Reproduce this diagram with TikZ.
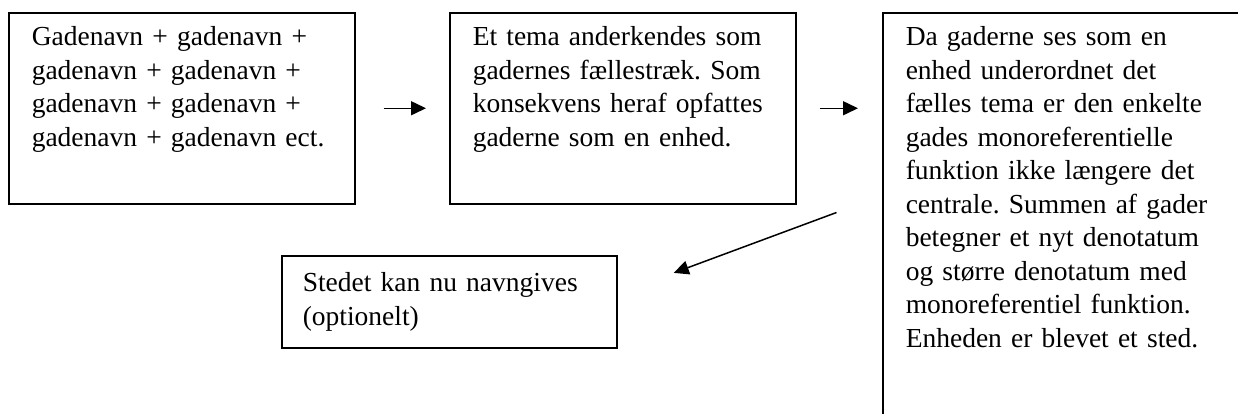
\documentclass[tikz,border=0pt]{standalone}
\usepackage{fontspec}
\setmainfont{Liberation Serif}
\frenchspacing
\usetikzlibrary{arrows.meta}
\tikzset{
  boks/.style={draw, line width=1.5pt, anchor=north west, align=left,
    inner xsep=23pt, inner ysep=0pt, text width=300pt,
    text height=33pt, text depth=158pt,
    font=\fontsize{27.5}{33.5}\selectfont},
  pil/.style={-{Triangle[length=15pt,width=14pt]}, line width=1.5pt}
}
\begin{document}
\begin{tikzpicture}[x=1pt,y=-1pt]
\useasboundingbox (0,0) rectangle (1238,413);
\clip (0,0) rectangle (1238,413);
%\draw[very thin,color=gray,step=50] (0,0) grid (1238,413);
\node[boks] (gader) at (8,12) {Gadenavn + gadenavn +\\ gadenavn + gadenavn +\\ gadenavn + gadenavn +\\ gadenavn + gadenavn ect.};
\node[boks] (tema) at (449,12) {Et tema anderkendes som\\ gadernes fællestræk. Som\\ konsekvens heraf opfattes\\ gaderne som en enhed.};
\node[boks, text width=380pt, text depth=397pt] (enhed) at (882,12) {Da gaderne ses som en\\ enhed underordnet det\\ fælles tema er den enkelte\\ gades monoreferentielle\\ funktion ikke længere det\\ centrale. Summen af gader\\ betegner et nyt denotatum\\ og større denotatum med\\ monoreferentiel funktion.\\ Enheden er blevet et sted.};
\node[boks, inner xsep=21pt, text width=293pt, text height=36pt, text depth=56pt] (sted) at (281,255) {Stedet kan nu navngives\\ (optionelt)};
\coordinate (knaek) at ([xshift=40pt,yshift=-8pt]tema.south east);
\draw[pil, shorten <=28pt, shorten >=23pt] (gader) -- (tema);
\draw[pil, shorten <=23pt, shorten >=24pt] (tema.east) -- (tema.east -| enhed.west);
\draw[pil, shorten >=60pt] (knaek) -- ([yshift=8pt]sted.east);
\end{tikzpicture}
\end{document}
